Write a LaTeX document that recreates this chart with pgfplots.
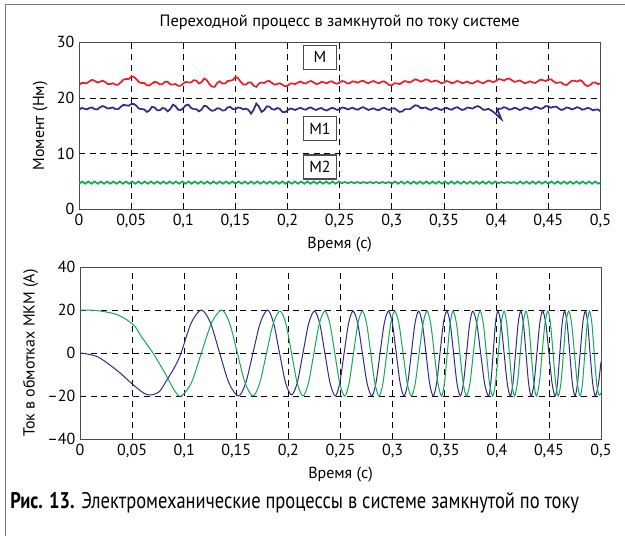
\documentclass[border=0pt]{standalone}
\usepackage{fontspec}
\setmainfont{PT Sans}
\usepackage{pgfplots}
\pgfplotsset{compat=1.18}
\definecolor{cred}{RGB}{236,32,44}
\definecolor{cblue}{RGB}{44,44,140}
\definecolor{cgreen}{RGB}{20,168,88}
\definecolor{cframe}{RGB}{120,120,120}
\pgfplotsset{myaxis/.style={scale only axis,
  axis line style={draw=black!70, line width=0.7pt},
  grid=major, major grid style={black, dash pattern=on 4.5pt off 3.5pt, line width=0.6pt},
  major tick length=0pt,
  ticklabel style={font=\fontsize{12}{14}\selectfont},
  label style={font=\fontsize{12}{14}\selectfont},
  /pgf/number format/assume math mode=true,
  xmin=0, xmax=0.5,
  xtick={0,0.05,0.1,0.15,0.2,0.25,0.3,0.35,0.4,0.45,0.5},
  xticklabels={0,{0,05},{0,1},{0,15},{0,2},{0,25},{0,3},{0,35},{0,4},{0,45},{0,5}},
  xlabel={Время (с)}}}
\begin{document}
\begin{tikzpicture}
\useasboundingbox (0pt,0pt) rectangle (468.75pt,402pt);
\draw[cframe, line width=0.9pt] (4.125pt,0pt) -- (4.125pt,398.6pt) -- (468.75pt,398.6pt);

\begin{axis}[myaxis, at={(59.25pt,245.0pt)}, anchor=south west,
  width=391.1pt, height=125.25pt,
  ymin=0, ymax=30, ytick={0,10,20,30},
  ylabel={Момент (Нм)},
  title={Переходной процесс в замкнутой по току системе},
  title style={font=\fontsize{12.3}{14}\selectfont}]
\addplot[cred, line width=1.3pt] coordinates {
(0,22.3)(0.0025,22.7)(0.005,22.7)(0.0075,22.65)(0.01,23.0)(0.0125,23.25)(0.015,23.1)(0.0175,22.8)(0.02,22.9)(0.0225,23.1)
(0.025,22.9)(0.0275,22.5)(0.03,22.5)(0.0325,22.65)(0.035,22.4)(0.0375,22.4)(0.04,22.8)(0.0425,23.3)(0.045,23.4)(0.0475,23.4)
(0.05,23.8)(0.0525,23.8)(0.055,23.4)(0.0575,22.85)(0.06,22.7)(0.0625,22.7)(0.065,22.3)(0.0675,22.25)(0.07,22.6)(0.0725,22.9)
(0.075,22.8)(0.0775,22.45)(0.08,22.5)(0.0825,22.9)(0.085,22.9)(0.0875,22.45)(0.09,22.4)(0.0925,22.5)(0.095,22.2)(0.0975,22.2)
(0.1,22.6)(0.1025,22.9)(0.105,22.8)(0.1075,22.8)(0.11,23.2)(0.1125,23.1)(0.115,22.6)(0.1175,22.85)(0.12,23.5)(0.1225,23.2)
(0.125,22.5)(0.1275,22.05)(0.13,22.0)(0.1325,22.7)(0.135,23.0)(0.1375,22.6)(0.14,22.6)(0.1425,23.05)(0.145,23.1)(0.1475,23.25)
(0.15,23.8)(0.1525,23.55)(0.155,22.9)(0.1575,22.45)(0.16,22.4)(0.1625,22.8)(0.165,22.8)(0.1675,22.2)(0.17,22.0)(0.1725,22.6)
(0.175,22.8)(0.1775,22.7)(0.18,23.0)(0.1825,23.05)(0.185,22.7)(0.1875,22.4)(0.19,22.5)(0.1925,22.65)(0.195,22.4)(0.1975,22.1)
(0.2,22.2)(0.2025,22.6)(0.205,22.6)(0.2075,22.5)(0.21,22.8)(0.2125,22.95)(0.215,22.7)(0.2175,22.6)(0.22,22.9)(0.2225,23.05)
(0.225,22.8)(0.2275,22.5)(0.23,22.6)(0.2325,22.9)(0.235,22.8)(0.2375,22.65)(0.24,22.9)(0.2425,23.0)(0.245,22.7)(0.2475,22.55)
(0.25,22.8)(0.2525,23.05)(0.255,22.9)(0.2575,22.6)(0.26,22.7)(0.2625,23.0)(0.265,22.9)(0.2675,22.75)(0.27,23.0)(0.2725,23.1)
(0.275,22.8)(0.2775,22.65)(0.28,22.9)(0.2825,23.05)(0.285,22.8)(0.2875,22.65)(0.29,22.9)(0.2925,23.0)(0.295,22.7)(0.2975,22.3)
(0.3,22.3)(0.3025,22.65)(0.305,22.6)(0.3075,22.5)(0.31,22.8)(0.3125,23.05)(0.315,22.9)(0.3175,22.8)(0.32,23.1)(0.3225,23.35)
(0.325,23.2)(0.3275,22.95)(0.33,23.1)(0.3325,23.35)(0.335,23.2)(0.3375,22.9)(0.34,23.0)(0.3425,23.15)(0.345,22.9)(0.3475,22.65)
(0.35,22.8)(0.3525,23.05)(0.355,22.9)(0.3575,22.65)(0.36,22.8)(0.3625,23.05)(0.365,22.9)(0.3675,22.65)(0.37,22.8)(0.3725,22.95)
(0.375,22.7)(0.3775,22.6)(0.38,22.9)(0.3825,23.05)(0.385,22.8)(0.3875,22.65)(0.39,22.9)(0.3925,23.15)(0.395,23.0)(0.3975,22.85)
(0.4,23.1)(0.4025,23.4)(0.405,23.3)(0.4075,23.15)(0.41,23.4)(0.4125,23.5)(0.415,23.2)(0.4175,22.9)(0.42,23.0)(0.4225,23.15)
(0.425,22.9)(0.4275,22.65)(0.43,22.8)(0.4325,23.0)(0.435,22.8)(0.4375,22.7)(0.44,23.0)(0.4425,23.3)(0.445,23.2)(0.4475,23.05)
(0.45,23.3)(0.4525,23.35)(0.455,23.0)(0.4575,22.7)(0.46,22.8)(0.4625,22.8)(0.465,22.4)(0.4675,22.35)(0.47,22.7)(0.4725,23.1)
(0.475,23.1)(0.4775,22.95)(0.48,23.2)(0.4825,23.0)(0.485,22.4)(0.4875,22.15)(0.49,22.3)(0.4925,22.75)(0.495,22.8)(0.4975,22.5)
(0.5,22.6)};
\addplot[cblue, line width=1.3pt] coordinates {
(0,17.9)(0.0025,18.2)(0.005,18.1)(0.0075,17.95)(0.01,18.2)(0.0125,18.3)(0.015,18.0)(0.0175,17.95)(0.02,18.3)(0.0225,18.55)
(0.025,18.4)(0.0275,18.1)(0.03,18.2)(0.0325,18.3)(0.035,18.0)(0.0375,18.0)(0.04,18.4)(0.0425,18.75)(0.045,18.7)(0.0475,18.6)
(0.05,18.9)(0.0525,18.95)(0.055,18.6)(0.0575,18.1)(0.06,18.0)(0.0625,17.95)(0.065,17.5)(0.0675,17.75)(0.07,18.4)(0.0725,18.3)
(0.075,17.8)(0.0775,17.8)(0.08,18.2)(0.0825,18.1)(0.085,17.6)(0.0875,18.0)(0.09,18.8)(0.0925,18.55)(0.095,17.9)(0.0975,17.85)
(0.1,18.2)(0.1025,18.7)(0.105,18.8)(0.1075,18.2)(0.11,18.0)(0.1125,18.0)(0.115,17.6)(0.1175,17.9)(0.12,18.6)(0.1225,18.5)
(0.125,18.0)(0.1275,17.7)(0.13,17.8)(0.1325,18.15)(0.135,18.1)(0.1375,17.75)(0.14,17.8)(0.1425,18.3)(0.145,18.4)(0.1475,18.0)
(0.15,18.0)(0.1525,18.3)(0.155,18.2)(0.1575,17.95)(0.16,18.1)(0.1625,17.85)(0.165,17.2)(0.1675,17.9)(0.17,19.0)(0.1725,18.45)
(0.175,17.5)(0.1775,17.8)(0.18,18.5)(0.1825,18.45)(0.185,18.0)(0.1875,17.9)(0.19,18.2)(0.1925,18.05)(0.195,17.5)(0.1975,17.45)
(0.2,17.8)(0.2025,18.1)(0.205,18.0)(0.2075,17.85)(0.21,18.1)(0.2125,18.25)(0.215,18.0)(0.2175,17.9)(0.22,18.2)(0.2225,18.3)
(0.225,18.0)(0.2275,17.85)(0.23,18.1)(0.2325,18.2)(0.235,17.9)(0.2375,17.75)(0.24,18.0)(0.2425,18.25)(0.245,18.1)(0.2475,17.85)
(0.25,18.0)(0.2525,18.3)(0.255,18.2)(0.2575,17.95)(0.26,18.1)(0.2625,18.25)(0.265,18.0)(0.2675,17.9)(0.27,18.2)(0.2725,18.35)
(0.275,18.1)(0.2775,17.85)(0.28,18.0)(0.2825,18.15)(0.285,17.9)(0.2875,17.8)(0.29,18.1)(0.2925,18.25)(0.295,18.0)(0.2975,17.85)
(0.3,18.1)(0.3025,18.15)(0.305,17.8)(0.3075,17.5)(0.31,17.6)(0.3125,18.0)(0.315,18.0)(0.3175,18.0)(0.32,18.4)(0.3225,18.7)
(0.325,18.6)(0.3275,18.2)(0.33,18.2)(0.3325,18.3)(0.335,18.0)(0.3375,17.85)(0.34,18.1)(0.3425,18.25)(0.345,18.0)(0.3475,17.85)
(0.35,18.1)(0.3525,18.25)(0.355,18.0)(0.3575,17.9)(0.36,18.2)(0.3625,18.35)(0.365,18.1)(0.3675,17.85)(0.37,18.0)(0.3725,18.3)
(0.375,18.2)(0.3775,18.1)(0.38,18.4)(0.3825,18.55)(0.385,18.3)(0.3875,17.9)(0.39,17.9)(0.3925,18.05)(0.395,17.8)(0.398,17.4)
(0.401,16.9)(0.403,16.5)(0.405,16.2)(0.401,18.0)(0.405,18.1)(0.4075,18.35)(0.41,18.2)(0.4125,17.9)(0.415,18.0)(0.4175,18.25)
(0.42,18.1)(0.4225,17.85)(0.425,18.0)(0.4275,18.3)(0.43,18.2)(0.4325,17.95)(0.435,18.1)(0.4375,18.4)(0.44,18.3)(0.4425,18.05)
(0.445,18.2)(0.4475,18.55)(0.45,18.5)(0.4525,18.25)(0.455,18.4)(0.4575,18.45)(0.46,18.1)(0.4625,17.85)(0.465,18.0)(0.4675,18.3)
(0.47,18.2)(0.4725,17.95)(0.475,18.1)(0.4775,18.35)(0.48,18.2)(0.4825,17.9)(0.485,18.0)(0.4875,18.25)(0.49,18.1)(0.4925,17.8)
(0.495,17.9)(0.4975,17.95)(0.5,17.6)};
\addplot[cgreen, line width=1.3pt] coordinates {
(0,4.6)(0.003,5.0)(0.006,4.6)(0.009,5.0)(0.012,4.6)(0.015,5.0)(0.018,4.6)(0.021,5.0)(0.024,4.6)(0.027,5.0)
(0.030,4.6)(0.033,5.0)(0.036,4.6)(0.039,5.0)(0.042,4.6)(0.045,5.0)(0.048,4.6)(0.051,5.0)(0.054,4.6)(0.057,5.0)
(0.060,4.6)(0.063,5.0)(0.066,4.6)(0.069,5.0)(0.072,4.6)(0.075,5.0)(0.078,4.6)(0.081,5.0)(0.084,4.6)(0.087,5.0)
(0.090,4.6)(0.093,5.0)(0.096,4.6)(0.099,5.0)(0.102,4.6)(0.105,5.0)(0.108,4.6)(0.111,5.0)(0.114,4.6)(0.117,5.0)
(0.120,4.6)(0.123,5.0)(0.126,4.6)(0.129,5.0)(0.132,4.6)(0.135,5.0)(0.138,4.6)(0.141,5.0)(0.144,4.6)(0.147,5.0)
(0.150,4.6)(0.153,5.0)(0.156,4.6)(0.159,5.0)(0.162,4.6)(0.165,5.0)(0.168,4.6)(0.171,5.0)(0.174,4.6)(0.177,5.0)
(0.180,4.6)(0.183,5.0)(0.186,4.6)(0.189,5.0)(0.192,4.6)(0.195,5.0)(0.198,4.6)(0.201,5.0)(0.204,4.6)(0.207,5.0)
(0.210,4.6)(0.213,5.0)(0.216,4.6)(0.219,5.0)(0.222,4.6)(0.225,5.0)(0.228,4.6)(0.231,5.0)(0.234,4.6)(0.237,5.0)
(0.240,4.6)(0.243,5.0)(0.246,4.6)(0.249,5.0)(0.252,4.7)(0.255,4.9)(0.258,4.7)(0.261,4.9)(0.264,4.7)(0.267,4.9)
(0.270,4.7)(0.273,4.9)(0.276,4.7)(0.279,4.9)(0.282,4.7)(0.285,4.9)(0.288,4.7)(0.291,4.9)(0.294,4.7)(0.297,4.9)
(0.300,4.6)(0.303,5.0)(0.306,4.6)(0.309,5.0)(0.312,4.6)(0.315,5.0)(0.318,4.6)(0.321,5.0)(0.324,4.6)(0.327,5.0)
(0.330,4.6)(0.333,5.0)(0.336,4.6)(0.339,5.0)(0.342,4.6)(0.345,5.0)(0.348,4.6)(0.351,5.0)(0.354,4.6)(0.357,5.0)
(0.360,4.6)(0.363,5.0)(0.366,4.6)(0.369,5.0)(0.372,4.6)(0.375,5.0)(0.378,4.6)(0.381,5.0)(0.384,4.6)(0.387,5.0)
(0.390,4.6)(0.393,5.0)(0.396,4.6)(0.399,5.0)(0.402,4.7)(0.405,4.9)(0.408,4.7)(0.411,4.9)(0.414,4.7)(0.417,4.9)
(0.420,4.6)(0.423,5.0)(0.426,4.6)(0.429,5.0)(0.432,4.6)(0.435,5.0)(0.438,4.6)(0.441,5.0)(0.444,4.6)(0.447,5.0)
(0.450,4.6)(0.453,5.0)(0.456,4.6)(0.459,5.0)(0.462,4.6)(0.465,5.0)(0.468,4.6)(0.471,5.0)(0.474,4.6)(0.477,5.0)
(0.480,4.6)(0.483,5.0)(0.486,4.6)(0.489,5.0)(0.492,4.6)(0.495,5.0)(0.498,4.6)(0.5,4.8)};
\node[draw=black!70, fill=white, line width=0.8pt, minimum width=24.75pt, minimum height=18pt, inner sep=0pt, font=\fontsize{12}{14}\selectfont] at (axis cs:0.2311,27.3) {M};
\node[draw=black!70, fill=white, line width=0.8pt, minimum width=24.75pt, minimum height=18pt, inner sep=0pt, font=\fontsize{12}{14}\selectfont] at (axis cs:0.2311,14.5) {M1};
\node[draw=black!70, fill=white, line width=0.8pt, minimum width=24.75pt, minimum height=18pt, inner sep=0pt, font=\fontsize{12}{14}\selectfont] at (axis cs:0.2311,7.6) {M2};
\end{axis}

\begin{axis}[myaxis, at={(60pt,72.75pt)}, anchor=south west,
  width=390.75pt, height=129pt,
  ymin=-40, ymax=40, ytick={-40,-20,0,20,40},
  yticklabels={–40,–20,0,20,40},
  ylabel={Ток в обмотках МКМ (А)}]
\addplot[cblue, line width=0.75pt, smooth] coordinates {
(0,0)(0.017,-1.8)(0.0365,-8.5)(0.0515,-15)(0.062,-18.9)(0.069,-19.5)(0.0765,-17.8)(0.0813,-14.2)(0.0909,-6.5)
(0.097,0)(0.10675,14)(0.1165,20)(0.12525,14)(0.134,0)(0.143,-14)(0.152,-20)(0.159,-14)
(0.166,0)(0.173,14)(0.180,20)(0.18575,14)(0.1915,0)(0.19725,-13.8)(0.203,-19.5)(0.2085,-13.8)
(0.214,0)(0.2195,13.8)(0.225,19.5)(0.230,13.8)(0.235,0)(0.240,-14)(0.245,-20)(0.24925,-14)
(0.2535,0)(0.25775,13.8)(0.262,19.5)(0.2665,13.8)(0.271,0)(0.2755,-14)(0.280,-20)(0.284,-14)
(0.288,0)(0.292,13.8)(0.296,19.5)(0.29975,13.8)(0.3035,0)(0.30725,-14)(0.311,-20)(0.3145,-14)
(0.318,0)(0.3215,13.8)(0.325,19.5)(0.3285,13.8)(0.332,0)(0.3355,-14)(0.339,-20)(0.34225,-14)
(0.3455,0)(0.34875,13.8)(0.352,19.5)(0.35525,13.8)(0.3585,0)(0.36175,-14)(0.365,-20)(0.368,-14)
(0.371,0)(0.374,13.8)(0.377,19.5)(0.38075,13.8)(0.3845,0)(0.38825,-14)(0.392,-20)(0.39425,-14)
(0.3965,0)(0.39875,13.8)(0.401,19.5)(0.404,13.8)(0.407,0)(0.410,-14)(0.413,-20)(0.4155,-14)
(0.418,0)(0.4205,13.8)(0.423,19.5)(0.4255,13.8)(0.428,0)(0.4305,-14)(0.433,-20)(0.43575,-14)
(0.4385,0)(0.44125,13.8)(0.444,19.5)(0.447,13.8)(0.45,0)(0.453,-14)(0.456,-20)(0.45825,-14)
(0.4605,0)(0.46275,13.8)(0.465,19.5)(0.4675,13.8)(0.47,0)(0.4725,-14)(0.475,-20)(0.4775,-14)
(0.48,0)(0.4825,13.8)(0.485,19.5)(0.48725,13.8)(0.4895,0)(0.492,-14)(0.4945,-20)(0.4975,-14.5)(0.5,-4)};
\addplot[cgreen, line width=0.75pt, smooth] coordinates {
(0,20)(0.017,19.7)(0.0365,17.7)(0.0515,13)(0.0588,7.7)(0.070,0)(0.0813,-9.2)(0.091,-17.7)(0.097,-20)
(0.10675,-14)(0.1165,0)(0.12625,14)(0.136,20)(0.1435,14)(0.151,0)(0.1585,-14)(0.166,-20)(0.1725,-14)
(0.179,0)(0.1855,13.8)(0.192,19.5)(0.1975,13.8)(0.203,0)(0.2085,-14)(0.214,-20)(0.21925,-14)
(0.2245,0)(0.22975,13.8)(0.235,19.5)(0.23975,13.8)(0.2445,0)(0.24925,-14)(0.254,-20)(0.25825,-14)
(0.2625,0)(0.26675,13.8)(0.271,19.5)(0.275,13.8)(0.279,0)(0.283,-14)(0.287,-20)(0.29075,-14)
(0.2945,0)(0.29825,13.8)(0.302,19.5)(0.306,13.8)(0.31,0)(0.314,-14)(0.318,-20)(0.32175,-14)
(0.3255,0)(0.32925,13.8)(0.333,19.5)(0.3365,13.8)(0.34,0)(0.3435,-14)(0.347,-20)(0.34975,-14)
(0.3525,0)(0.35525,13.8)(0.358,19.5)(0.36125,13.8)(0.3645,0)(0.36775,-14)(0.371,-20)(0.37425,-14)
(0.3775,0)(0.38075,13.8)(0.384,19.5)(0.387,13.8)(0.39,0)(0.393,-14)(0.396,-20)(0.39875,-14)
(0.4015,0)(0.40425,13.8)(0.407,19.5)(0.4095,13.8)(0.412,0)(0.4145,-14)(0.417,-20)(0.41975,-14)
(0.4225,0)(0.42525,13.8)(0.428,19.5)(0.4305,13.8)(0.433,0)(0.4355,-14)(0.438,-20)(0.44075,-14)
(0.4435,0)(0.44625,13.8)(0.449,19.5)(0.4515,13.8)(0.454,0)(0.4565,-14)(0.459,-20)(0.4615,-14)
(0.464,0)(0.46625,13.8)(0.469,19.5)(0.47175,13.8)(0.4745,0)(0.47725,-14)(0.480,-20)(0.48225,-14)
(0.4845,0)(0.48675,13.8)(0.489,19.5)(0.49125,13.8)(0.4935,0)(0.49575,-14)(0.498,-19.5)(0.5,-18.5)};
\end{axis}

\node[anchor=west, inner sep=0pt] at (7.5pt,24.75pt) {\fontsize{17}{20}\selectfont\addfontfeatures{FakeStretch=0.815}\textbf{Рис. 13.} Электромеханические процессы в системе замкнутой по току};
\end{tikzpicture}
\end{document}
